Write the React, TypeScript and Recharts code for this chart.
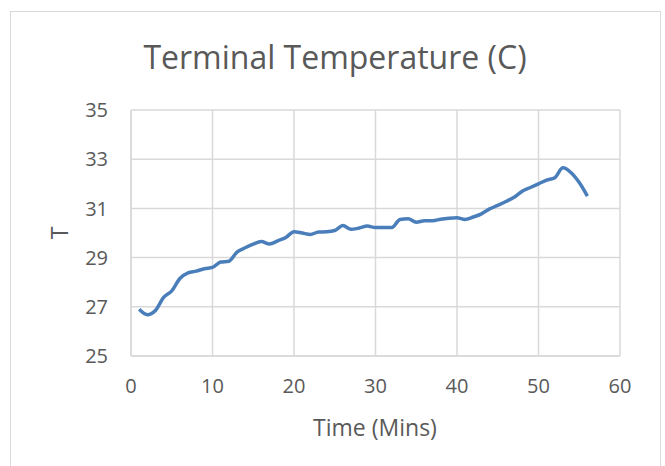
import React from 'react';
import { LineChart, Line, XAxis, YAxis, CartesianGrid } from 'recharts';

const minutes = [1, 2, 3, 4, 5, 6, 7, 8, 9, 10, 11, 12, 13, 14, 15, 16, 17, 18, 19, 20, 21, 22, 23, 24, 25, 26, 27, 28, 29, 30, 31, 32, 33, 34, 35, 36, 37, 38, 39, 40, 41, 42, 43, 44, 45, 46, 47, 48, 49, 50, 51, 52, 53, 54, 55, 56];
const temperature = [26.9, 26.68, 26.85, 27.38, 27.65, 28.15, 28.38, 28.45, 28.55, 28.6, 28.82, 28.85, 29.22, 29.4, 29.55, 29.65, 29.55, 29.68, 29.82, 30.05, 30.0, 29.94, 30.04, 30.05, 30.1, 30.3, 30.15, 30.2, 30.28, 30.22, 30.22, 30.22, 30.55, 30.58, 30.44, 30.5, 30.5, 30.56, 30.6, 30.62, 30.55, 30.65, 30.78, 30.98, 31.12, 31.28, 31.45, 31.7, 31.85, 32.0, 32.15, 32.25, 32.65, 32.45, 32.05, 31.5];
const xTicks = [0, 10, 20, 30, 40, 50, 60];
const yTicks = [25, 27, 29, 31, 33, 35];

const data = minutes.map((m, i) => ({ t: m, T: temperature[i] }));

const FONT = '"Open Sans", sans-serif';
const TEXT = '#595959';
const GRID = '#d9d9d9';

export default function App() {
  return (
    <div style={{ position: 'absolute', left: 0, top: 0, width: 665, height: 466, overflow: 'hidden', background: '#fff', fontFamily: FONT }}>
      <div style={{ position: 'absolute', left: 10, top: 11, width: 651, height: 480, border: `1.5px solid ${GRID}`, boxSizing: 'border-box' }} />
      <LineChart
        width={665}
        height={466}
        data={data}
        margin={{ top: 110, right: 45, bottom: 80, left: 61 }}
        style={{ position: 'absolute', left: 0, top: 0 }}
      >
        <CartesianGrid stroke={GRID} strokeWidth={1.5} />
        <XAxis
          dataKey="t"
          type="number"
          domain={[0, 60]}
          ticks={xTicks}
          height={30}
          tickLine={false}
          axisLine={{ stroke: GRID, strokeWidth: 1.5 }}
          tickSize={6}
          tickMargin={17}
          tick={{ fill: TEXT, fontSize: 20, fontFamily: FONT }}
        />
        <YAxis
          type="number"
          domain={[25, 35]}
          ticks={yTicks}
          width={70}
          tickLine={false}
          axisLine={{ stroke: GRID, strokeWidth: 1.5 }}
          tickSize={6}
          tickMargin={17}
          tick={{ fill: TEXT, fontSize: 20, fontFamily: FONT }}
        />
        <Line
          dataKey="T"
          type="monotone"
          stroke="#4a7ebb"
          strokeWidth={3.5}
          dot={false}
          isAnimationActive={false}
        />
      </LineChart>
      <svg width={665} height={466} style={{ position: 'absolute', left: 0, top: 0, pointerEvents: 'none' }}>
        <text x={335} y={69} textAnchor="middle" fill={TEXT} fontSize={32} fontFamily={FONT}>Terminal Temperature (C)</text>
        <text x={375} y={436} textAnchor="middle" fill={TEXT} fontSize={23} fontFamily={FONT}>Time (Mins)</text>
        <text x={68} y={233} textAnchor="middle" fill={TEXT} fontSize={23} fontFamily={FONT} transform="rotate(-90 68 233)">T</text>
      </svg>
    </div>
  );
}
